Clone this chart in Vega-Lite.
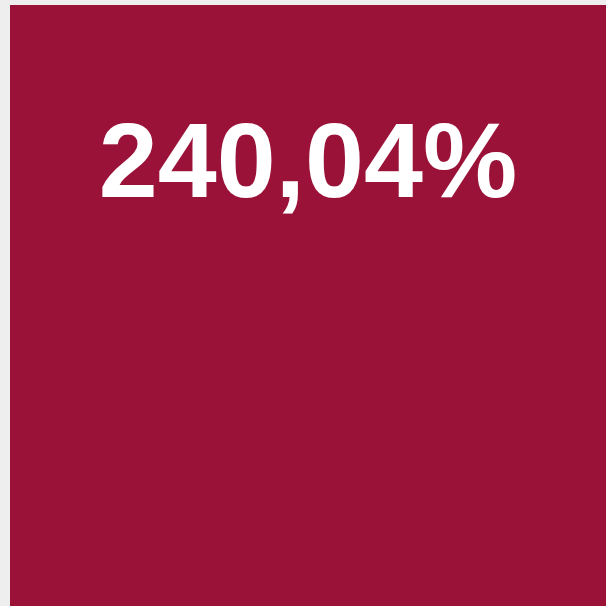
{
  "$schema": "https://vega.github.io/schema/vega-lite/v6.json",
  "width": 596,
  "height": 601,
  "padding": {"left": 10, "top": 5, "right": 0, "bottom": 0},
  "autosize": {"type": "none"},
  "background": "#eeeeee",
  "view": {"fill": "#9b1239", "stroke": null},
  "data": {"values": [{"label": "240,04%", "pos": 0.734}]},
  "mark": {"type": "text", "font": "Liberation Sans", "fontWeight": "bold", "fontSize": 106, "color": "#ffffff", "baseline": "middle", "align": "center"},
  "encoding": {
    "text": {"field": "label", "type": "nominal"},
    "y": {"field": "pos", "type": "quantitative", "scale": {"domain": [0, 1], "nice": false, "zero": false}, "axis": null}
  }
}
